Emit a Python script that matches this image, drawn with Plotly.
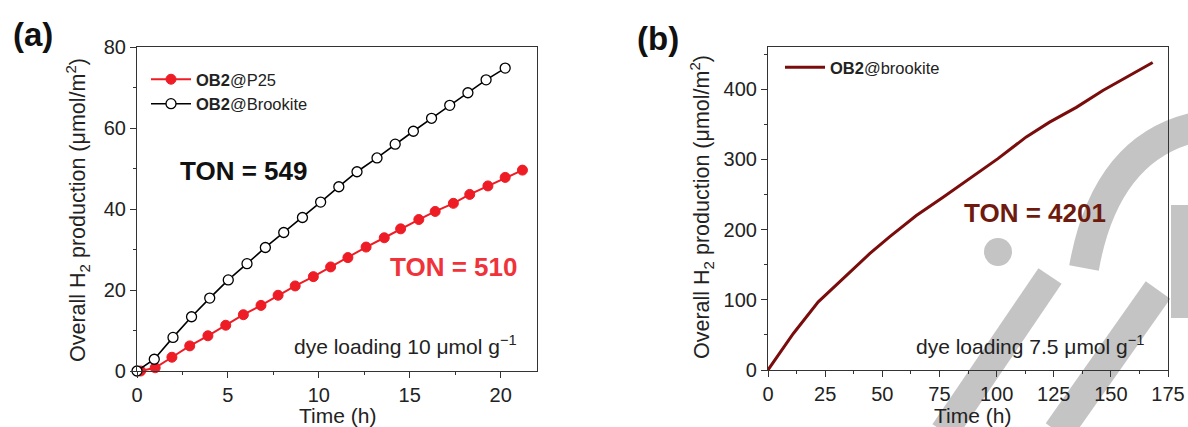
import plotly.graph_objects as go

# ---------------- data ----------------
# Panel (a)
p25_time = [0.2, 1.0, 1.92, 2.9, 3.9, 4.88, 5.85, 6.82, 7.76, 8.7, 9.7, 10.65,
            11.6, 12.6, 13.6, 14.5, 15.5, 16.4, 17.4, 18.3, 19.3, 20.25, 21.2]
p25_h2 = [0.0, 0.8, 3.4, 6.2, 8.7, 11.3, 13.9, 16.2, 18.7, 21.0, 23.3, 25.7,
          28.0, 30.6, 32.9, 35.1, 37.4, 39.4, 41.4, 43.6, 45.7, 47.8, 49.6]
brk_time = [0.0, 0.95, 1.98, 3.0, 4.0, 5.02, 6.05, 7.06, 8.07, 9.1, 10.1, 11.1,
            12.1, 13.2, 14.2, 15.2, 16.2, 17.2, 18.2, 19.2, 20.25]
brk_h2 = [0.0, 2.9, 8.3, 13.4, 18.0, 22.5, 26.5, 30.5, 34.2, 37.9, 41.7, 45.5,
          49.2, 52.6, 56.0, 59.2, 62.4, 65.6, 68.7, 71.9, 74.8]

# Panel (b)
b_time = [0, 11.1, 22.0, 32.9, 44.6, 53.3, 64.9, 76.6, 88.2, 100.6, 113.0,
          123.2, 134.9, 146.5, 157.4, 168.3]
b_h2 = [0, 52, 97, 130, 166, 190, 220, 246, 273, 301, 332, 353, 374, 398, 418, 438]

a_xticks = [0, 5, 10, 15, 20]
a_yticks = [0, 20, 40, 60, 80]
b_xticks = [0, 25, 50, 75, 100, 125, 150, 175]
b_yticks = [0, 100, 200, 300, 400]

FONT = "Liberation Sans, Arial, sans-serif"
RED = "#ee1c25"
DARKRED = "#7a0c0c"
AXC = "#333333"
WM = "#c4c4c4"

W, H = 1188, 427


def px(x):
    return x / W


def py(y):
    return 1 - y / H


fig = go.Figure()

fig.add_trace(go.Scatter(
    x=p25_time, y=p25_h2, mode="lines+markers", name="<b>OB2</b>@P25",
    line=dict(color=RED, width=2),
    marker=dict(symbol="circle", size=10, color=RED, line=dict(color=RED, width=1)),
    xaxis="x", yaxis="y", legend="legend", cliponaxis=False))
fig.add_trace(go.Scatter(
    x=brk_time, y=brk_h2, mode="lines+markers", name="<b>OB2</b>@Brookite",
    line=dict(color="black", width=1.6),
    marker=dict(symbol="circle", size=10, color="white", line=dict(color="black", width=1.3)),
    xaxis="x", yaxis="y", legend="legend", cliponaxis=False))
fig.add_trace(go.Scatter(
    x=b_time, y=b_h2, mode="lines", name="<b>OB2</b>@brookite",
    line=dict(color=DARKRED, width=3),
    xaxis="x2", yaxis="y2", legend="legend2"))

ax_common = dict(showline=True, linecolor=AXC, linewidth=1.2, mirror=True,
                 ticks="outside", ticklen=6, tickwidth=1.2, tickcolor=AXC,
                 showgrid=False, zeroline=False, automargin=False,
                 tickfont=dict(family=FONT, size=20, color="#222222"))

fig.update_layout(
    template="none",
    width=W, height=H, autosize=False,
    margin=dict(l=0, r=0, t=0, b=0, pad=0),
    paper_bgcolor="white", plot_bgcolor="rgba(0,0,0,0)",
    xaxis=dict(domain=[px(137), px(537)], range=[0, 22], anchor="y",
               tickvals=a_xticks, minor=dict(dtick=2.5, ticklen=3, ticks="outside", tickcolor=AXC),
               **ax_common),
    yaxis=dict(domain=[py(371), py(47)], range=[0, 80], anchor="x",
               tickvals=a_yticks, minor=dict(dtick=10, ticklen=3, ticks="outside", tickcolor=AXC),
               **ax_common),
    xaxis2=dict(domain=[px(768), px(1168)], range=[0, 175], anchor="y2",
                tickvals=b_xticks, minor=dict(dtick=12.5, ticklen=3, ticks="outside", tickcolor=AXC),
                **ax_common),
    yaxis2=dict(domain=[py(370), py(47)], range=[0, 460], anchor="x2",
                tickvals=b_yticks, minor=dict(dtick=50, ticklen=3, ticks="outside", tickcolor=AXC),
                **ax_common),
    legend=dict(x=px(146), y=py(62), xanchor="left", yanchor="top",
                bgcolor="rgba(0,0,0,0)", borderwidth=0, tracegroupgap=0,
                font=dict(family=FONT, size=16.5, color="#222222"), itemwidth=40),
    legend2=dict(x=px(780), y=py(50), xanchor="left", yanchor="top",
                 bgcolor="rgba(0,0,0,0)", borderwidth=0,
                 font=dict(family=FONT, size=16.5, color="#222222"), itemwidth=40),
    showlegend=True,
)

ann = []


def add_ann(text, x, y, xref="paper", yref="paper", size=20, color="#222222", angle=0):
    ann.append(dict(text=text, x=x, y=y, xref=xref, yref=yref, textangle=angle,
                    xanchor="center", yanchor="middle", showarrow=False,
                    font=dict(family=FONT, size=size, color=color)))


# panel labels
add_ann("<b>(a)</b>", px(33), py(35), size=33, color="#111111")
add_ann("<b>(b)</b>", px(658), py(39), size=33, color="#111111")
# axis titles
ytitle = "Overall H<sub>2</sub> production (μmol/m<sup>2</sup>)"
add_ann(ytitle, px(77), py(210), size=21.5, angle=-90)
add_ann(ytitle, px(701), py(207), size=21.5, angle=-90)
add_ann("Time (h)", px(337), py(415), size=21)
add_ann("Time (h)", px(972), py(415), size=21)
# in-plot texts (a)
add_ann("<b>TON = 549</b>", 5.85, 49.3, "x", "y", size=26, color="#111111")
add_ann("<b>TON = 510</b>", 17.43, 25.8, "x", "y", size=26, color="#f0323a")
add_ann("dye loading 10 μmol g<sup>−1</sup>", 14.77, 6.4, "x", "y", size=21)
# in-plot texts (b)
add_ann("<b>TON = 4201</b>", 117, 223, "x2", "y2", size=26, color="#6e1a0e")
add_ann("dye loading 7.5 μmol g<sup>−1</sup>", 114.5, 35.5, "x2", "y2", size=21)

# faint grey watermark fragments behind panel (b)
shapes = []
shapes.append(dict(type="circle", xref="paper", yref="paper", layer="below",
                   x0=px(984), x1=px(1012), y0=py(266), y1=py(238),
                   fillcolor=WM, line=dict(width=0)))


def band(x0, y0, x1, y1, hw):
    dx, dy = x1 - x0, y1 - y0
    L = (dx * dx + dy * dy) ** 0.5
    nx, ny = -dy / L * hw, dx / L * hw
    pts = [(x0 + nx, y0 + ny), (x1 + nx, y1 + ny), (x1 - nx, y1 - ny), (x0 - nx, y0 - ny)]
    d = "M " + " L ".join(f"{px(a):.5f},{py(b):.5f}" for a, b in pts) + " Z"
    return dict(type="path", xref="paper", yref="paper", layer="below", path=d,
                fillcolor=WM, line=dict(width=0))


shapes.append(band(944, 432, 1050, 276, 14))
shapes.append(band(1058, 432, 1158, 290, 15))
shapes.append(dict(type="path", xref="paper", yref="paper", layer="below",
                   path=f"M {px(1084):.5f},{py(268):.5f} Q {px(1105):.5f},{py(150):.5f} {px(1192):.5f},{py(128):.5f}",
                   line=dict(color=WM, width=30)))
shapes.append(dict(type="path", xref="paper", yref="paper", layer="below",
                   path=f"M {px(1180):.5f},{py(205):.5f} L {px(1180):.5f},{py(318):.5f}",
                   line=dict(color=WM, width=18)))

fig.update_layout(annotations=ann, shapes=shapes)

fig.write_html("out.html", config={"displayModeBar": False},
               post_script="document.body.style.margin='0px';")
